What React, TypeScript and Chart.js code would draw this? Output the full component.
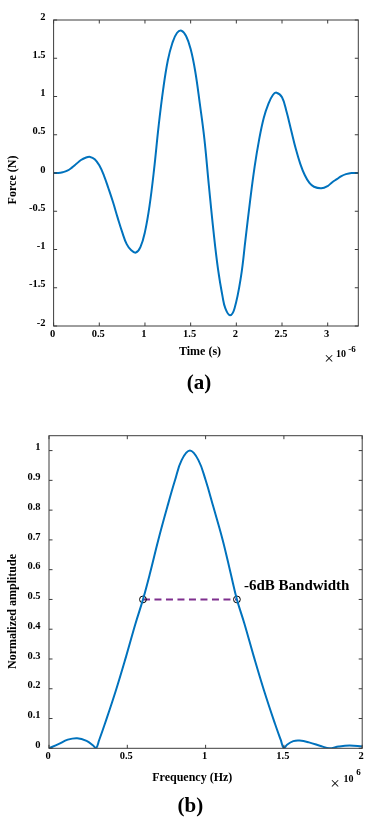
import React, { useEffect, useRef } from "react";
import { Chart, registerables } from "chart.js";

Chart.register(...registerables);

// ---------- Chart (a): force vs time (time in units of 1e-6 s) ----------
const TIME_US = [0, 0.05, 0.1, 0.15, 0.2, 0.25, 0.3, 0.35, 0.4, 0.45, 0.5, 0.55, 0.6, 0.65, 0.7, 0.75, 0.8, 0.85, 0.9, 0.95, 1.0, 1.05, 1.1, 1.15, 1.2, 1.25, 1.3, 1.35, 1.4, 1.45, 1.5, 1.55, 1.6, 1.65, 1.7, 1.75, 1.8, 1.85, 1.88, 1.93, 1.98, 2.05, 2.1, 2.15, 2.2, 2.25, 2.3, 2.35, 2.4, 2.44, 2.5, 2.55, 2.6, 2.65, 2.7, 2.75, 2.8, 2.85, 2.93, 3.0, 3.05, 3.1, 3.15, 3.2, 3.26, 3.335];
const FORCE_N = [0, 0, 0.01, 0.03, 0.07, 0.12, 0.17, 0.2, 0.21, 0.18, 0.1, -0.03, -0.2, -0.38, -0.58, -0.77, -0.93, -1.01, -1.04, -0.97, -0.77, -0.43, 0.05, 0.62, 1.1, 1.47, 1.7, 1.83, 1.86, 1.79, 1.62, 1.33, 0.91, 0.45, -0.17, -0.76, -1.26, -1.62, -1.77, -1.86, -1.77, -1.36, -0.87, -0.37, 0.08, 0.44, 0.72, 0.9, 1.02, 1.05, 0.99, 0.8, 0.56, 0.32, 0.12, -0.03, -0.13, -0.18, -0.2, -0.17, -0.12, -0.08, -0.04, -0.015, 0, 0];
const TIME_TICKS = [0, 0.5, 1, 1.5, 2, 2.5, 3];
const FORCE_TICKS = [-2, -1.5, -1, -0.5, 0, 0.5, 1, 1.5, 2];
const TIME_MIN = 0;
const TIME_MAX = 3.335;
const FORCE_MIN = -2;
const FORCE_MAX = 2;

// ---------- Chart (b): normalized spectrum (frequency in units of 1e6 Hz) ----------
const FREQ_MHZ = [0, 0.06, 0.12, 0.18, 0.24, 0.28, 0.3, 0.32, 0.358, 0.428, 0.492, 0.553, 0.6, 0.645, 0.698, 0.756, 0.805, 0.847, 0.9, 0.954, 1.0, 1.049, 1.109, 1.16, 1.2, 1.247, 1.308, 1.372, 1.442, 1.48, 1.5, 1.52, 1.56, 1.6, 1.66, 1.74, 1.79, 1.85, 1.92, 2.0];
const AMPLITUDE = [0, 0.014, 0.029, 0.034, 0.025, 0.01, 0, 0.027, 0.084, 0.196, 0.308, 0.42, 0.5, 0.588, 0.7, 0.812, 0.901, 0.968, 1.0, 0.968, 0.901, 0.812, 0.7, 0.588, 0.5, 0.42, 0.308, 0.196, 0.084, 0.028, 0, 0.012, 0.024, 0.026, 0.02, 0.007, 0, 0.006, 0.009, 0.006];
const BW_FREQ = [0.6, 1.2];
const BW_LEVEL = [0.5, 0.5];
const FREQ_TICKS = [0, 0.5, 1, 1.5, 2];
const AMP_TICKS = [0, 0.1, 0.2, 0.3, 0.4, 0.5, 0.6, 0.7, 0.8, 0.9, 1];
const FREQ_MIN = 0;
const FREQ_MAX = 2;
const AMP_MIN = 0;
const AMP_MAX = 1.05;
const BW_LABEL = "-6dB Bandwidth";
const BW_LABEL_POS = { x: 1.245, y: 0.546 };

const SERIF = '"Liberation Serif", "Times New Roman", serif';
const BLUE = "#0072BD";
const PURPLE = "#7E2F8E";
const BOX = "#3c3c3c";

type TextItem = {
  text: string;
  x: number;
  y: number;
  font: string;
  rotate?: number;
  align?: CanvasTextAlign;
  data?: boolean;
};

const boxPlugin = {
  id: "matlabBox",
  afterDatasetsDraw(chart: any, _args: any, opts: any) {
    const { ctx, chartArea, scales } = chart;
    const { left, right, top, bottom } = chartArea;
    const len = opts.tickLength ?? 3.5;
    ctx.save();
    ctx.strokeStyle = BOX;
    ctx.lineWidth = 1;
    ctx.strokeRect(left, top, right - left, bottom - top);
    ctx.beginPath();
    scales.x.ticks.forEach((t: any) => {
      const px = scales.x.getPixelForValue(t.value);
      ctx.moveTo(px, bottom);
      ctx.lineTo(px, bottom - len);
      ctx.moveTo(px, top);
      ctx.lineTo(px, top + len);
    });
    scales.y.ticks.forEach((t: any) => {
      const py = scales.y.getPixelForValue(t.value);
      ctx.moveTo(left, py);
      ctx.lineTo(left + len, py);
      ctx.moveTo(right, py);
      ctx.lineTo(right - len, py);
    });
    ctx.stroke();
    ctx.restore();
  },
  afterDraw(chart: any, _args: any, opts: any) {
    const { ctx, scales } = chart;
    ctx.save();
    ctx.fillStyle = "#000";
    ctx.textBaseline = "middle";
    (opts.texts || []).forEach((t: TextItem) => {
      let x = t.x;
      let y = t.y;
      if (t.data) {
        x = scales.x.getPixelForValue(t.x);
        y = scales.y.getPixelForValue(t.y);
      }
      ctx.save();
      ctx.font = t.font;
      ctx.textAlign = t.align || "center";
      ctx.translate(x, y);
      if (t.rotate) ctx.rotate((t.rotate * Math.PI) / 180);
      ctx.fillText(t.text, 0, 0);
      ctx.restore();
    });
    ctx.restore();
  },
};

const tickFont = { family: SERIF, weight: "bold" as const, size: 10.5 };

function makeScales(
  xMin: number, xMax: number, xTicks: number[],
  yMin: number, yMax: number, yTicks: number[],
  yWidth: number, yPad: number
) {
  return {
    x: {
      type: "linear" as const,
      min: xMin,
      max: xMax,
      grid: { display: false, drawTicks: false },
      border: { display: false },
      afterBuildTicks: (s: any) => { s.ticks = xTicks.map((v) => ({ value: v })); },
      afterFit: (s: any) => { s.height = 20; },
      ticks: {
        font: tickFont,
        color: "#000",
        padding: 2,
        maxRotation: 0,
        labelOffset: -1,
        callback: (v: any) => String(v),
      },
    },
    y: {
      type: "linear" as const,
      min: yMin,
      max: yMax,
      grid: { display: false, drawTicks: false },
      border: { display: false },
      afterBuildTicks: (s: any) => { s.ticks = yTicks.map((v) => ({ value: v })); },
      afterFit: (s: any) => { s.width = yWidth; },
      ticks: {
        font: tickFont,
        color: "#000",
        padding: yPad,
        labelOffset: -3,
        callback: (v: any) => String(v),
      },
    },
  };
}

function ForceChart() {
  const ref = useRef<HTMLCanvasElement | null>(null);
  useEffect(() => {
    if (!ref.current) return;
    const chart = new Chart(ref.current, {
      type: "line",
      data: {
        datasets: [
          {
            data: TIME_US.map((t, i) => ({ x: t, y: FORCE_N[i] })),
            borderColor: BLUE,
            borderWidth: 2,
            pointRadius: 0,
            tension: 0.4,
            fill: false,
          },
        ],
      },
      options: {
        animation: false,
        responsive: false,
        layout: { padding: { left: 0, top: 20, right: 18.7, bottom: 54 } },
        scales: makeScales(TIME_MIN, TIME_MAX, TIME_TICKS, FORCE_MIN, FORCE_MAX, FORCE_TICKS, 53.6, 8),
        plugins: {
          legend: { display: false },
          tooltip: { enabled: false },
          matlabBox: {
            tickLength: 3.5,
            texts: [
              { text: "Force (N)", x: 12.5, y: 180, rotate: -90, font: `bold 12px ${SERIF}` },
              { text: "Time (s)", x: 200, y: 351.7, font: `bold 12px ${SERIF}` },
              { text: "×", x: 329, y: 360, font: `17px ${SERIF}` },
              { text: "10", x: 341, y: 354, font: `bold 10px ${SERIF}` },
              { text: "-6", x: 352, y: 349.5, font: `bold 9px ${SERIF}` },
              { text: "(a)", x: 199, y: 383.5, font: `bold 21px ${SERIF}` },
            ],
          },
        } as any,
      },
      plugins: [boxPlugin],
    } as any);
    return () => chart.destroy();
  }, []);
  return <canvas ref={ref} width={377} height={400} style={{ position: "absolute", left: 0, top: 0, width: 377, height: 400 }} />;
}

function SpectrumChart() {
  const ref = useRef<HTMLCanvasElement | null>(null);
  useEffect(() => {
    if (!ref.current) return;
    const chart = new Chart(ref.current, {
      type: "line",
      data: {
        datasets: [
          {
            data: FREQ_MHZ.map((f, i) => ({ x: f, y: AMPLITUDE[i] })),
            borderColor: BLUE,
            borderWidth: 2,
            pointRadius: 0,
            tension: 0.4,
            fill: false,
          },
          {
            data: BW_FREQ.map((f, i) => ({ x: f, y: BW_LEVEL[i] })),
            borderColor: PURPLE,
            borderWidth: 2,
            borderDash: [7, 4.5],
            pointRadius: 3.4,
            pointBorderColor: "#000",
            pointBackgroundColor: "rgba(0,0,0,0)",
            pointBorderWidth: 1,
            tension: 0,
            fill: false,
          },
        ],
      },
      options: {
        animation: false,
        responsive: false,
        layout: { padding: { left: 0, top: 25.7, right: 14.8, bottom: 55.7 } },
        scales: makeScales(FREQ_MIN, FREQ_MAX, FREQ_TICKS, AMP_MIN, AMP_MAX, AMP_TICKS, 49, 8.5),
        plugins: {
          legend: { display: false },
          tooltip: { enabled: false },
          matlabBox: {
            tickLength: 3.5,
            texts: [
              { text: "Normalized amplitude", x: 12.5, y: 201.5, rotate: -90, font: `bold 12px ${SERIF}` },
              { text: "Frequency (Hz)", x: 192.3, y: 367.7, font: `bold 12px ${SERIF}` },
              { text: "×", x: 335, y: 374.3, font: `17px ${SERIF}` },
              { text: "10", x: 348.5, y: 369, font: `bold 10px ${SERIF}` },
              { text: "6", x: 358.5, y: 363, font: `bold 9px ${SERIF}` },
              { text: "(b)", x: 190.3, y: 397, font: `bold 21px ${SERIF}` },
              { text: BW_LABEL, x: BW_LABEL_POS.x, y: BW_LABEL_POS.y, data: true, align: "left", font: `bold 15px ${SERIF}` },
            ],
          },
        } as any,
      },
      plugins: [boxPlugin],
    } as any);
    return () => chart.destroy();
  }, []);
  return <canvas ref={ref} width={377} height={414} style={{ position: "absolute", left: 0, top: 410, width: 377, height: 414 }} />;
}

export default function App() {
  return (
    <div style={{ position: "absolute", left: 0, top: 0, width: 377, height: 824, background: "#fff", overflow: "hidden" }}>
      <ForceChart />
      <SpectrumChart />
    </div>
  );
}
